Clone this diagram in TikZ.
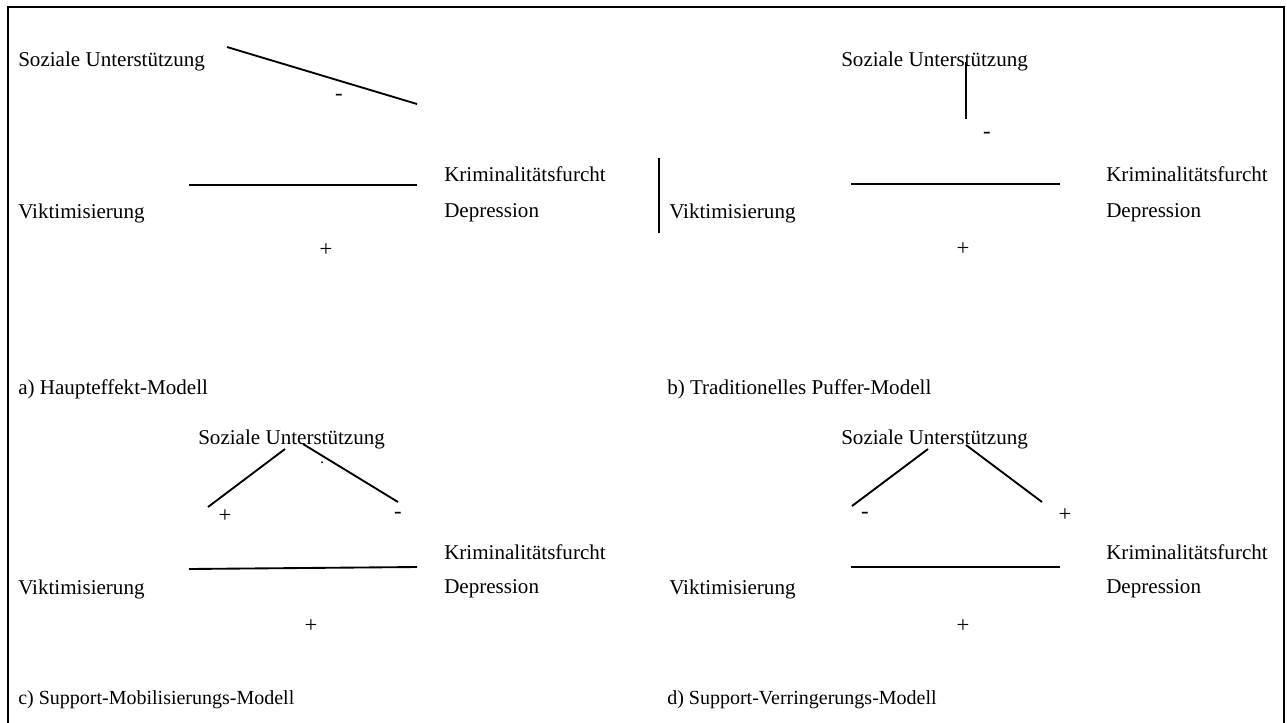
\documentclass[tikz,border=0pt]{standalone}
\usepackage{fontspec}
\setmainfont{Liberation Serif}
\usetikzlibrary{positioning}

\begin{document}
\begin{tikzpicture}[x=0.75pt,y=-0.75pt,inner sep=0pt,
    lbl/.style={anchor=west,yshift=-1.5pt,font=\fontsize{15.8}{19}\selectfont},
    caption/.style={anchor=west,yshift=-1.5pt,font=\fontsize{15}{18}\selectfont},
    sgn/.style={yshift=-1pt,font=\fontsize{17}{20}\selectfont},
    link/.style={line width=1.4pt}]
        \useasboundingbox (0,0) rectangle (1287,722);
        \draw[line width=1.6pt] (8,730) -- (8,7) -- (1284,7) -- (1284,730);
        % a) Haupteffekt-Modell
        \node[lbl] (su_a) at (18,59) {Soziale Unterst\"utzung};
        \node[lbl] (vi_a) at (18,211) {Viktimisierung};
        \node[lbl] (kr_a) at (444,172) {Kriminalit\"atsfurcht};
        \node[lbl] (de_a) at (444,211) {Depression};
        \node[sgn] (m_a) at (339,96) {-};
        \node[sgn] (p_a) at (326,249) {+};
        \node[lbl] (cap_a) at (18,387) {a) Haupteffekt-Modell};
        \coordinate (s_a1) at (227,47); \coordinate (s_a2) at (417,104);
        \coordinate (v_a1) at (189,185); \coordinate (v_a2) at (417,185);
        \draw[link] (s_a1) -- (s_a2);
        \draw[link] (v_a1) -- (v_a2);
        \coordinate (sep1) at (659,158); \coordinate (sep2) at (659,233);
        \draw[link] (sep1) -- (sep2);
        % b) Traditionelles Puffer-Modell
        \node[lbl] (su_b) at (841,59) {Soziale Unterst\"utzung};
        \node[lbl] (vi_b) at (669,211) {Viktimisierung};
        \node[lbl] (kr_b) at (1106,172) {Kriminalit\"atsfurcht};
        \node[lbl] (de_b) at (1106,211) {Depression};
        \node[sgn] (m_b) at (987,134) {-};
        \node[sgn] (p_b) at (963,248) {+};
        \node[lbl] (cap_b) at (667,387) {b) Traditionelles Puffer-Modell};
        \coordinate (s_b1) at (966,62); \coordinate (s_b2) at (966,119);
        \coordinate (v_b1) at (851,184); \coordinate (v_b2) at (1060,184);
        \draw[link] (s_b1) -- (s_b2);
        \draw[link] (v_b1) -- (v_b2);
        % c) Support-Mobilisierungs-Modell
        \node[lbl] (su_c) at (198,437) {Soziale Unterst\"utzung};
        \node[lbl] (vi_c) at (18,587) {Viktimisierung};
        \node[lbl] (kr_c) at (444,550) {Kriminalit\"atsfurcht};
        \node[lbl] (de_c) at (444,587) {Depression};
        \node[font=\fontsize{12}{12}\selectfont] (dot_c) at (322,463) {.};
        \node[sgn] (l_c) at (225,515) {+};
        \node[sgn] (r_c) at (398,514) {-};
        \node[sgn] (p_c) at (311,625) {+};
        \node[caption] (cap_c) at (18,698) {c) Support-Mobilisierungs-Modell};
        \coordinate (s_c1) at (285,449); \coordinate (s_c2) at (208,507);
        \coordinate (s_c3) at (303,444); \coordinate (s_c4) at (398,502);
        \coordinate (v_c1) at (189,569); \coordinate (v_c2) at (417,567);
        \draw[link] (s_c1) -- (s_c2);
        \draw[link] (s_c3) -- (s_c4);
        \draw[link] (v_c1) -- (v_c2);
        % d) Support-Verringerungs-Modell
        \node[lbl] (su_d) at (841,437) {Soziale Unterst\"utzung};
        \node[lbl] (vi_d) at (669,587) {Viktimisierung};
        \node[lbl] (kr_d) at (1106,550) {Kriminalit\"atsfurcht};
        \node[lbl] (de_d) at (1106,587) {Depression};
        \node[sgn] (l_d) at (865,514) {-};
        \node[sgn] (r_d) at (1065,514) {+};
        \node[sgn] (p_d) at (963,625) {+};
        \node[caption] (cap_d) at (667,698) {d) Support-Verringerungs-Modell};
        \coordinate (s_d1) at (928,449); \coordinate (s_d2) at (852,506);
        \coordinate (s_d3) at (966,445); \coordinate (s_d4) at (1042,502);
        \coordinate (v_d1) at (851,567); \coordinate (v_d2) at (1060,567);
        \draw[link] (s_d1) -- (s_d2);
        \draw[link] (s_d3) -- (s_d4);
        \draw[link] (v_d1) -- (v_d2);
      \end{tikzpicture}
\end{document}
